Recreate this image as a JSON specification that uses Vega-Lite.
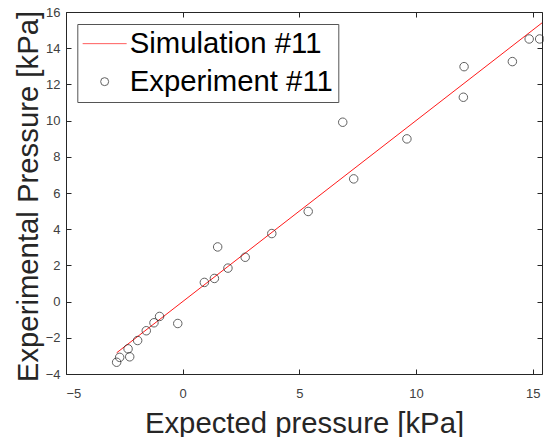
{
  "$schema": "https://vega.github.io/schema/vega-lite/v6.json",
  "width": 476,
  "height": 362,
  "autosize": "none",
  "padding": {"left": 66, "top": 12, "right": 2, "bottom": 63},
  "background": "white",
  "config": {
    "view": {"stroke": null},
    "font": "Liberation Sans",
    "axis": {
      "grid": false,
      "domainColor": "#262626",
      "domainWidth": 1,
      "tickColor": "#262626",
      "tickSize": -5,
      "labelFont": "Liberation Sans",
      "labelFontSize": 13,
      "labelColor": "#404040",
      "titleFont": "Liberation Sans",
      "titleFontSize": 29.3,
      "titleFontWeight": "normal",
      "titleColor": "#262626"
    }
  },
  "datasets": {
    "simulation": [
      {"expected": -2.83, "measured": -2.83},
      {"expected": 15.4, "measured": 15.4}
    ],
    "experiment": [
      {"series": "Experiment #11", "expected": -2.83, "measured": -3.35},
      {"series": "Experiment #11", "expected": -2.70, "measured": -3.08},
      {"series": "Experiment #11", "expected": -2.27, "measured": -3.05},
      {"series": "Experiment #11", "expected": -2.34, "measured": -2.61},
      {"series": "Experiment #11", "expected": -1.93, "measured": -2.15},
      {"series": "Experiment #11", "expected": -1.56, "measured": -1.61},
      {"series": "Experiment #11", "expected": -1.23, "measured": -1.17},
      {"series": "Experiment #11", "expected": -0.99, "measured": -0.82},
      {"series": "Experiment #11", "expected": -0.21, "measured": -1.21},
      {"series": "Experiment #11", "expected": 0.93, "measured": 1.06},
      {"series": "Experiment #11", "expected": 1.36, "measured": 1.28},
      {"series": "Experiment #11", "expected": 1.50, "measured": 3.02},
      {"series": "Experiment #11", "expected": 1.94, "measured": 1.85},
      {"series": "Experiment #11", "expected": 2.68, "measured": 2.45},
      {"series": "Experiment #11", "expected": 3.82, "measured": 3.76},
      {"series": "Experiment #11", "expected": 5.38, "measured": 4.98},
      {"series": "Experiment #11", "expected": 6.86, "measured": 9.91},
      {"series": "Experiment #11", "expected": 7.33, "measured": 6.78},
      {"series": "Experiment #11", "expected": 9.61, "measured": 8.99},
      {"series": "Experiment #11", "expected": 12.06, "measured": 12.98},
      {"series": "Experiment #11", "expected": 12.03, "measured": 11.29},
      {"series": "Experiment #11", "expected": 14.13, "measured": 13.26},
      {"series": "Experiment #11", "expected": 14.85, "measured": 14.51},
      {"series": "Experiment #11", "expected": 15.30, "measured": 14.51}
    ]
  },
  "layer": [
    {
      "data": {"name": "simulation"},
      "mark": {"type": "line", "color": "#ff1a1a", "strokeWidth": 1},
      "encoding": {
        "x": {
          "field": "expected",
          "type": "quantitative",
          "scale": {"domain": [-5, 15.4], "nice": false, "zero": false},
          "axis": {
            "orient": "bottom",
            "values": [-5, 0, 5, 10, 15],
            "labelPadding": 18,
            "title": "Expected pressure [kPa]",
            "titleBaseline": "alphabetic",
            "titleAlign": "center",
            "titleX": 238,
            "titleY": 58
          }
        },
        "y": {
          "field": "measured",
          "type": "quantitative",
          "scale": {"domain": [-4, 16], "nice": false, "zero": false},
          "axis": {
            "orient": "left",
            "values": [-4, -2, 0, 2, 4, 6, 8, 10, 12, 14, 16],
            "labelPadding": 11,
            "title": "Experimental Pressure [kPa]",
            "titleBaseline": "alphabetic",
            "titleAlign": "center",
            "titleAngle": -90,
            "titleX": -28.7,
            "titleY": 184
          }
        }
      }
    },
    {
      "data": {"name": "experiment"},
      "mark": {"type": "point", "filled": false, "size": 72, "strokeWidth": 1},
      "encoding": {
        "x": {
          "field": "expected",
          "type": "quantitative",
          "axis": {"orient": "top", "values": [-5, 0, 5, 10, 15], "labels": false, "title": null}
        },
        "y": {
          "field": "measured",
          "type": "quantitative",
          "axis": {"orient": "right", "values": [-4, -2, 0, 2, 4, 6, 8, 10, 12, 14, 16], "labels": false, "title": null}
        },
        "color": {
          "field": "series",
          "type": "nominal",
          "scale": {"domain": ["Simulation #11", "Experiment #11"], "range": ["#ff1a1a", "#1f1f1f"]},
          "legend": {
            "title": null,
            "orient": "none",
            "legendX": 11.3,
            "legendY": 12,
            "direction": "vertical",
            "padding": 5,
            "strokeColor": "#555555",
            "fillColor": "white",
            "labelFont": "Liberation Sans",
            "labelFontSize": 29.3,
            "labelColor": "#000000",
            "labelLimit": 400,
            "symbolSize": 64,
            "symbolStrokeWidth": 1,
            "symbolOffset": 7.7,
            "labelOffset": 10.5,
            "rowPadding": 8
          }
        },
        "shape": {
          "field": "series",
          "type": "nominal",
          "scale": {"domain": ["Simulation #11", "Experiment #11"], "range": ["M-5.5,0H5.5", "circle"]},
          "legend": {
            "title": null,
            "orient": "none",
            "legendX": 11.3,
            "legendY": 12,
            "direction": "vertical",
            "padding": 5,
            "strokeColor": "#555555",
            "fillColor": "white",
            "labelFont": "Liberation Sans",
            "labelFontSize": 29.3,
            "labelColor": "#000000",
            "labelLimit": 400,
            "symbolSize": 64,
            "symbolStrokeWidth": 1,
            "symbolOffset": 7.7,
            "labelOffset": 10.5,
            "rowPadding": 8
          }
        }
      }
    }
  ],
  "resolve": {"axis": {"x": "independent", "y": "independent"}}
}
